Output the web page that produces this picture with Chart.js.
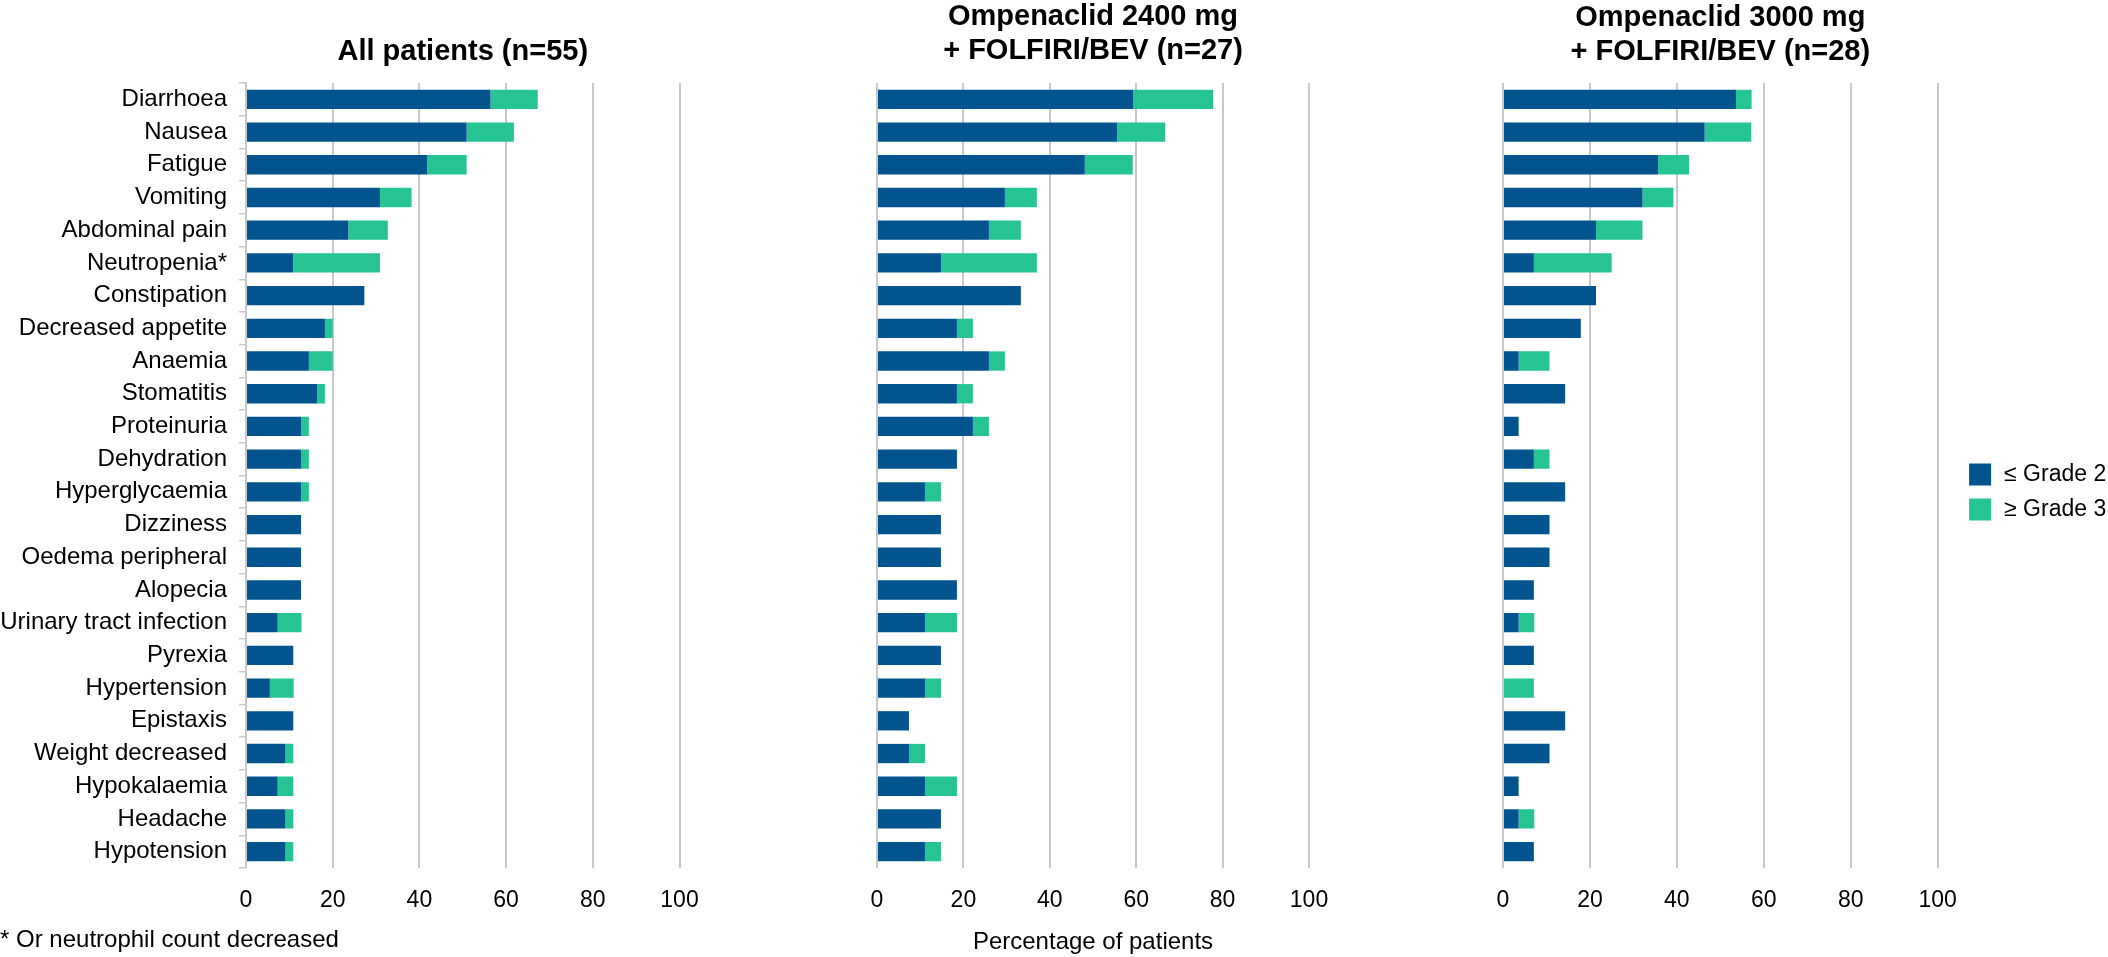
<!DOCTYPE html>
<html>
<head>
<meta charset="utf-8">
<title>Adverse events</title>
<script src="https://cdn.jsdelivr.net/npm/chart.js@4"></script>
<style>
  html, body { margin: 0; padding: 0; background: #fff; overflow: hidden; }
  body { width: 2108px; height: 957px; position: relative; }
  canvas { position: absolute; top: 0; }
  #nota { position: absolute; left: 0; top: 925px; font: 24px 'Liberation Sans', Arial, sans-serif; line-height: 28px; color: #000; white-space: nowrap; }
</style>
</head>
<body>
<canvas id="chartTodos" width="720" height="957" style="left:0"></canvas>
<canvas id="chart2400" width="640" height="957" style="left:720px"></canvas>
<canvas id="chart3000" width="748" height="957" style="left:1360px"></canvas>
<div id="nota">* Or neutrophil count decreased</div>

<script>
// Eventos adversos (% de pacientes)
const categorias = [
  'Diarrhoea', 'Nausea', 'Fatigue', 'Vomiting', 'Abdominal pain', 'Neutropenia*',
  'Constipation', 'Decreased appetite', 'Anaemia', 'Stomatitis', 'Proteinuria',
  'Dehydration', 'Hyperglycaemia', 'Dizziness', 'Oedema peripheral', 'Alopecia',
  'Urinary tract infection', 'Pyrexia', 'Hypertension', 'Epistaxis',
  'Weight decreased', 'Hypokalaemia', 'Headache', 'Hypotension'
];

// Todos los pacientes (n=55)
const todosG2 = [56.4, 50.9, 41.8, 30.9, 23.6, 10.9, 27.3, 18.2, 14.5, 16.4, 12.7, 12.7,
                 12.7, 12.7, 12.7, 12.7, 7.3, 10.9, 5.5, 10.9, 9.1, 7.3, 9.1, 9.1];
const todosG3 = [10.9, 10.9, 9.1, 7.3, 9.1, 20.0, 0, 1.8, 5.5, 1.8, 1.8, 1.8,
                 1.8, 0, 0, 0, 5.5, 0, 5.5, 0, 1.8, 3.6, 1.8, 1.8];

// Ompenaclid 2400 mg (n=27)
const dosis2400G2 = [59.3, 55.6, 48.1, 29.6, 25.9, 14.8, 33.3, 18.5, 25.9, 18.5, 22.2, 18.5,
                     11.1, 14.8, 14.8, 18.5, 11.1, 14.8, 11.1, 7.4, 7.4, 11.1, 14.8, 11.1];
const dosis2400G3 = [18.5, 11.1, 11.1, 7.4, 7.4, 22.2, 0, 3.7, 3.7, 3.7, 3.7, 0,
                     3.7, 0, 0, 0, 7.4, 0, 3.7, 0, 3.7, 7.4, 0, 3.7];

// Ompenaclid 3000 mg (n=28)
const dosis3000G2 = [53.6, 46.4, 35.7, 32.1, 21.4, 7.1, 21.4, 17.9, 3.6, 14.3, 3.6, 7.1,
                     14.3, 10.7, 10.7, 7.1, 3.6, 7.1, 0, 14.3, 10.7, 3.6, 3.6, 7.1];
const dosis3000G3 = [3.6, 10.7, 7.1, 7.1, 10.7, 17.9, 0, 0, 7.1, 0, 0, 3.6,
                     0, 0, 0, 0, 3.6, 0, 7.1, 0, 0, 0, 3.6, 0];

const ticksX = [0, 20, 40, 60, 80, 100];
const leyenda = ['≤ Grade 2', '≥ Grade 3'];
const colores = ['#02548f', '#26c493'];

Chart.defaults.font.family = "'Liberation Sans', Arial, sans-serif";
Chart.defaults.color = '#000';

// Leyenda dibujada a la derecha del último panel
const leyendaGrados = {
  id: 'leyendaGrados',
  afterDraw(chart) {
    const { ctx, chartArea } = chart;
    const x = chartArea.right + 31.5;
    let y = (chartArea.top + chartArea.bottom) / 2 - 1;
    ctx.save();
    ctx.font = "23px 'Liberation Sans', Arial, sans-serif";
    ctx.textBaseline = 'middle';
    chart.data.datasets.forEach(ds => {
      ctx.fillStyle = ds.backgroundColor;
      ctx.fillRect(x, y - 11, 22, 22);
      ctx.fillStyle = '#000';
      ctx.fillText(ds.label, x + 35, y);
      y += 35;
    });
    ctx.restore();
  }
};

// Crea un panel de barras apiladas horizontales
function crearPanel(id, titulo, bajos, altos, extra) {
  const ctx = document.getElementById(id).getContext('2d');
  return new Chart(ctx, {
    type: 'bar',
    data: {
      labels: categorias,
      datasets: [
        { label: leyenda[0], data: bajos, backgroundColor: colores[0] },
        { label: leyenda[1], data: altos, backgroundColor: colores[1] }
      ]
    },
    options: {
      indexAxis: 'y',
      responsive: false,
      animation: false,
      layout: { padding: extra.padding },
      datasets: { bar: { barPercentage: 0.59, categoryPercentage: 1 } },
      scales: {
        x: {
          stacked: true,
          min: 0,
          max: 100,
          afterBuildTicks: scale => { scale.ticks = ticksX.map(v => ({ value: v })); },
          afterFit: scale => { scale.height = 89; },
          grid: { color: '#c8c8c8', lineWidth: 2, drawTicks: false },
          border: { display: false },
          ticks: { font: { size: 23 }, padding: 19 },
          title: extra.tituloEje
            ? { display: true, text: extra.tituloEje, font: { size: 24 }, padding: { top: 0, bottom: 0 } }
            : { display: false }
        },
        y: extra.ejeY || { stacked: true, display: false }
      },
      plugins: {
        legend: { display: false },
        tooltip: { enabled: false },
        title: {
          display: true,
          text: titulo,
          fullSize: false,
          color: '#000',
          font: { size: 29, weight: 'bold', lineHeight: 1.15 },
          padding: extra.tituloPadding
        }
      }
    },
    plugins: extra.plugins || []
  });
}

document.addEventListener('DOMContentLoaded', function () {
  crearPanel('chartTodos', 'All patients (n=55)', todosG2, todosG3, {
    padding: { left: 0, right: 40.5, top: 0, bottom: 0 },
    tituloPadding: { top: 35, bottom: 14.65 },
    ejeY: {
      stacked: true,
      afterFit: scale => { scale.width = 246; },
      grid: { drawOnChartArea: false, drawTicks: true, tickLength: 7, color: '#c8c8c8', lineWidth: 1.5 },
      border: { display: true, color: '#c8c8c8', width: 2 },
      ticks: { font: { size: 24 }, padding: 12, autoSkip: false }
    }
  });

  crearPanel('chart2400', ['Ompenaclid 2400 mg', '+ FOLFIRI/BEV (n=27)'], dosis2400G2, dosis2400G3, {
    padding: { left: 157, right: 51, top: 0, bottom: 0 },
    tituloPadding: { top: 0.5, bottom: 15.8 },
    tituloEje: 'Percentage of patients'
  });

  crearPanel('chart3000', ['Ompenaclid 3000 mg', '+ FOLFIRI/BEV (n=28)'], dosis3000G2, dosis3000G3, {
    padding: { left: 143, right: 170.4, top: 0, bottom: 0 },
    tituloPadding: { top: 1.5, bottom: 14.8 },
    plugins: [leyendaGrados]
  });
});
</script>
</body>
</html>
